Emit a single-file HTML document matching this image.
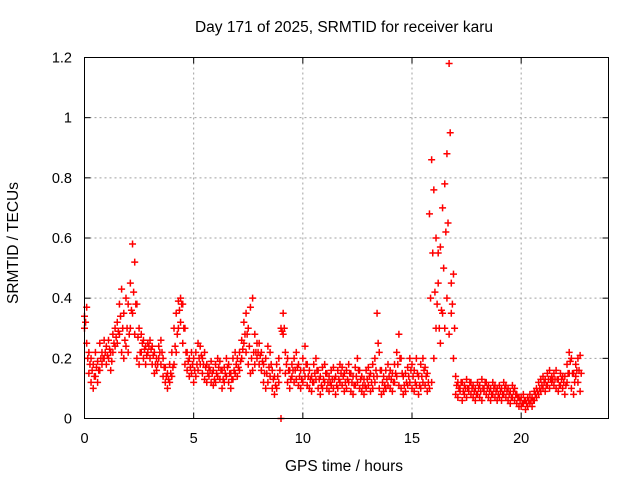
<!DOCTYPE html>
<html><head><meta charset="utf-8"><style>
body{margin:0;background:#fff}
svg{display:block;font-family:"Liberation Sans",sans-serif}
</style></head><body>
<svg id="chart" width="640" height="480">
<text x="344" y="32" font-size="15.5" text-anchor="middle" fill="#000">Day 171 of 2025, SRMTID for receiver karu</text>
<text x="344" y="471" font-size="15.5" text-anchor="middle" fill="#000">GPS time / hours</text>
<text transform="translate(18,243) rotate(-90)" font-size="15.5" text-anchor="middle" fill="#000">SRMTID / TECUs</text>
<g id="grid"></g>
<g id="ticks"></g>
<g id="marks"></g>
<rect x="84.5" y="57.5" width="524" height="361" fill="none" stroke="#000" stroke-width="1"/>
</svg>
<script>
const xTicks=[0,5,10,15,20];
const yTicks=[0,0.2,0.4,0.6,0.8,1,1.2];
const yTickLabels=["0","0.2","0.4","0.6","0.8","1","1.2"];
const timeStep=0.1;
const valsA=[
.30,.25,.15,.12,.10,.14,.12,.16,.18,.20,
.18,.20,.16,.22,.24,.25,.28,.22,.20,.24,
.22,.30,.35,.28,.20,.18,.22,.20,.18,.22,
.20,.18,.15,.16,.20,.18,.14,.12,.10,.12,
.14,.18,.22,.30,.32,.25,.18,.16,.14,.15,
.12,.14,.16,.18,.15,.13,.12,.14,.12,.11,
.12,.14,.13,.10,.12,.14,.12,.10,.13,.15,
.14,.16,.20,.25,.22,.18,.15,.16,.18,.20,
.18,.16,.12,.10,.12,.14,.10,.08,.10,.12,
.00,.28,.15,.12,.10,.14,.12,.13,.11,.10,
.12,.14,.11,.10,.09,.12,.13,.10,.08,.10,
.12,.10,.09,.11,.10,.08,.10,.12,.11,.09,
.10,.12,.09,.08,.11,.12,.10,.09,.08,.10,
.11,.09,.10,.12,.14,.10,.08,.09,.10,.11,
.10,.09,.12,.14,.11,.10,.08,.09,.11,.12,
.10,.09,.11,.08,.10,.12,.11,.09,.10,.12,
.20,.30,.45,.25,.35,.30,.40,.28,.35,.20,
.08,.07,.09,.06,.08,.07,.09,.08,.07,.06,
.08,.07,.06,.09,.08,.07,.06,.08,.07,.06,
.07,.06,.08,.07,.06,.05,.07,.06,.05,.04,
.04,.05,.03,.04,.05,.04,.06,.07,.08,.09,
.10,.09,.11,.10,.12,.11,.10,.09,.11,.10,
.08,.12,.15,.10,.08,.14,.12,.09];
const valsB=[
.34,.37,.22,.20,.18,.22,.19,.25,.22,.26,
.24,.26,.22,.28,.30,.32,.38,.43,.35,.40,
.38,.45,.58,.52,.38,.30,.28,.26,.24,.25,
.26,.24,.22,.20,.24,.26,.20,.17,.15,.18,
.22,.30,.35,.39,.40,.38,.30,.22,.20,.22,
.20,.22,.25,.24,.20,.22,.18,.17,.19,.16,
.18,.20,.19,.16,.17,.20,.18,.15,.20,.22,
.20,.22,.26,.32,.35,.30,.37,.40,.28,.25,
.25,.22,.18,.20,.24,.22,.16,.14,.18,.20,
.30,.35,.22,.20,.16,.18,.20,.22,.18,.16,
.20,.24,.18,.16,.14,.18,.20,.16,.14,.17,
.18,.15,.14,.16,.17,.14,.16,.18,.17,.15,
.16,.18,.15,.14,.17,.20,.16,.14,.13,.16,
.17,.15,.18,.20,.35,.22,.16,.14,.16,.18,
.16,.15,.18,.22,.28,.20,.14,.15,.17,.20,
.18,.16,.20,.14,.18,.20,.17,.15,.68,.86,
.76,.60,.55,.57,.70,.78,.88,1.18,.45,.48,
.14,.12,.10,.12,.11,.13,.10,.12,.11,.10,
.12,.11,.13,.10,.12,.11,.10,.12,.11,.10,
.11,.10,.12,.11,.10,.09,.11,.10,.08,.07,
.07,.08,.06,.07,.08,.07,.09,.10,.12,.13,
.14,.13,.15,.16,.14,.15,.16,.13,.15,.14,
.14,.18,.22,.20,.15,.18,.20,.21];
const valsC=[
.32,.20,.18,.16,.14,.17,.16,.20,.20,.22,
.21,.23,.19,.25,.27,.29,.34,.30,.26,.30,
.28,.36,.42,.38,.27,.22,.25,.23,.21,.24,
.23,.21,.18,.18,.22,.22,.17,.14,.13,.15,
.17,.24,.28,.36,.38,.30,.22,.19,.17,.18,
.16,.18,.20,.21,.18,.17,.15,.16,.15,.13,
.15,.17,.16,.13,.15,.17,.15,.13,.16,.18,
.17,.19,.23,.28,.28,.24,.20,.22,.22,.22,
.21,.19,.15,.15,.17,.18,.13,.11,.14,.16,
.29,.30,.18,.16,.13,.16,.16,.17,.14,.13,
.16,.18,.14,.13,.12,.15,.16,.13,.11,.13,
.15,.12,.12,.13,.13,.11,.13,.15,.14,.12,
.13,.15,.12,.11,.14,.16,.13,.11,.11,.13,
.14,.12,.14,.16,.25,.16,.12,.11,.13,.14,
.13,.12,.15,.18,.20,.15,.11,.12,.14,.16,
.14,.12,.15,.11,.14,.16,.14,.12,.40,.55,
.42,.38,.30,.36,.50,.62,.65,.95,.38,.30,
.11,.10,.12,.09,.10,.10,.12,.10,.09,.08,
.10,.09,.10,.12,.10,.09,.08,.10,.09,.08,
.09,.08,.10,.09,.08,.07,.09,.08,.07,.06,
.05,.06,.05,.06,.06,.06,.08,.09,.10,.11,
.12,.11,.13,.13,.13,.13,.13,.11,.13,.12,
.11,.15,.19,.15,.12,.16,.16,.15];
const X0=84.5,X1=608.5,Y0=418.5,Y1=57.5,XMAX=24,YMAX=1.2;
function xs(v){return X0+(X1-X0)*v/XMAX;}
function ys(v){return Y0-(Y0-Y1)*v/YMAX;}
const NS="http://www.w3.org/2000/svg";
const grid=document.getElementById('grid'),ticks=document.getElementById('ticks'),marks=document.getElementById('marks');
function ln(p,x1,y1,x2,y2,st,da){const l=document.createElementNS(NS,'line');l.setAttribute('x1',x1);l.setAttribute('y1',y1);l.setAttribute('x2',x2);l.setAttribute('y2',y2);l.setAttribute('stroke',st);if(da)l.setAttribute('stroke-dasharray',da);p.appendChild(l);return l;}
xTicks.forEach(t=>{
  const x=xs(t);
  if(t>0){const g=ln(grid,x,Y1,x,Y0,'#a0a0a0','2,3');
  
  }
  ln(ticks,x,Y0,x,Y0-6,'#000');ln(ticks,x,Y1,x,Y1+6,'#000');
  const tx=document.createElementNS(NS,'text');tx.setAttribute('x',x);tx.setAttribute('y',443);tx.setAttribute('font-size','14.5');tx.setAttribute('text-anchor','middle');tx.textContent=t;
  
  
  ticks.appendChild(tx);
});
yTicks.forEach((t,i)=>{
  const y=ys(t);
  if(t>0&&t<YMAX){const g=ln(grid,X0,y,X1,y,'#a0a0a0','2,3');
  
  }
  ln(ticks,X0,y,X0+6,y,'#000');ln(ticks,X1,y,X1-6,y,'#000');
  const tx=document.createElementNS(NS,'text');tx.setAttribute('x',72);tx.setAttribute('y',y+5);tx.setAttribute('font-size','14.5');tx.setAttribute('text-anchor','end');tx.textContent=yTickLabels[i];
  
  
  ticks.appendChild(tx);
});
let d='';
[[valsA,0],[valsB,0],[valsC,0.05]].forEach(([arr,off])=>{arr.forEach((v,i)=>{const x=xs(i*timeStep+off),y=ys(v);d+=`M${x-3.5} ${y}h7M${x} ${y-3.5}v7`;});});
const p=document.createElementNS(NS,'path');p.setAttribute('d',d);p.setAttribute('stroke','#ff0000');p.setAttribute('stroke-width','1.5');p.setAttribute('fill','none');


marks.appendChild(p);
</script>
</body></html>
